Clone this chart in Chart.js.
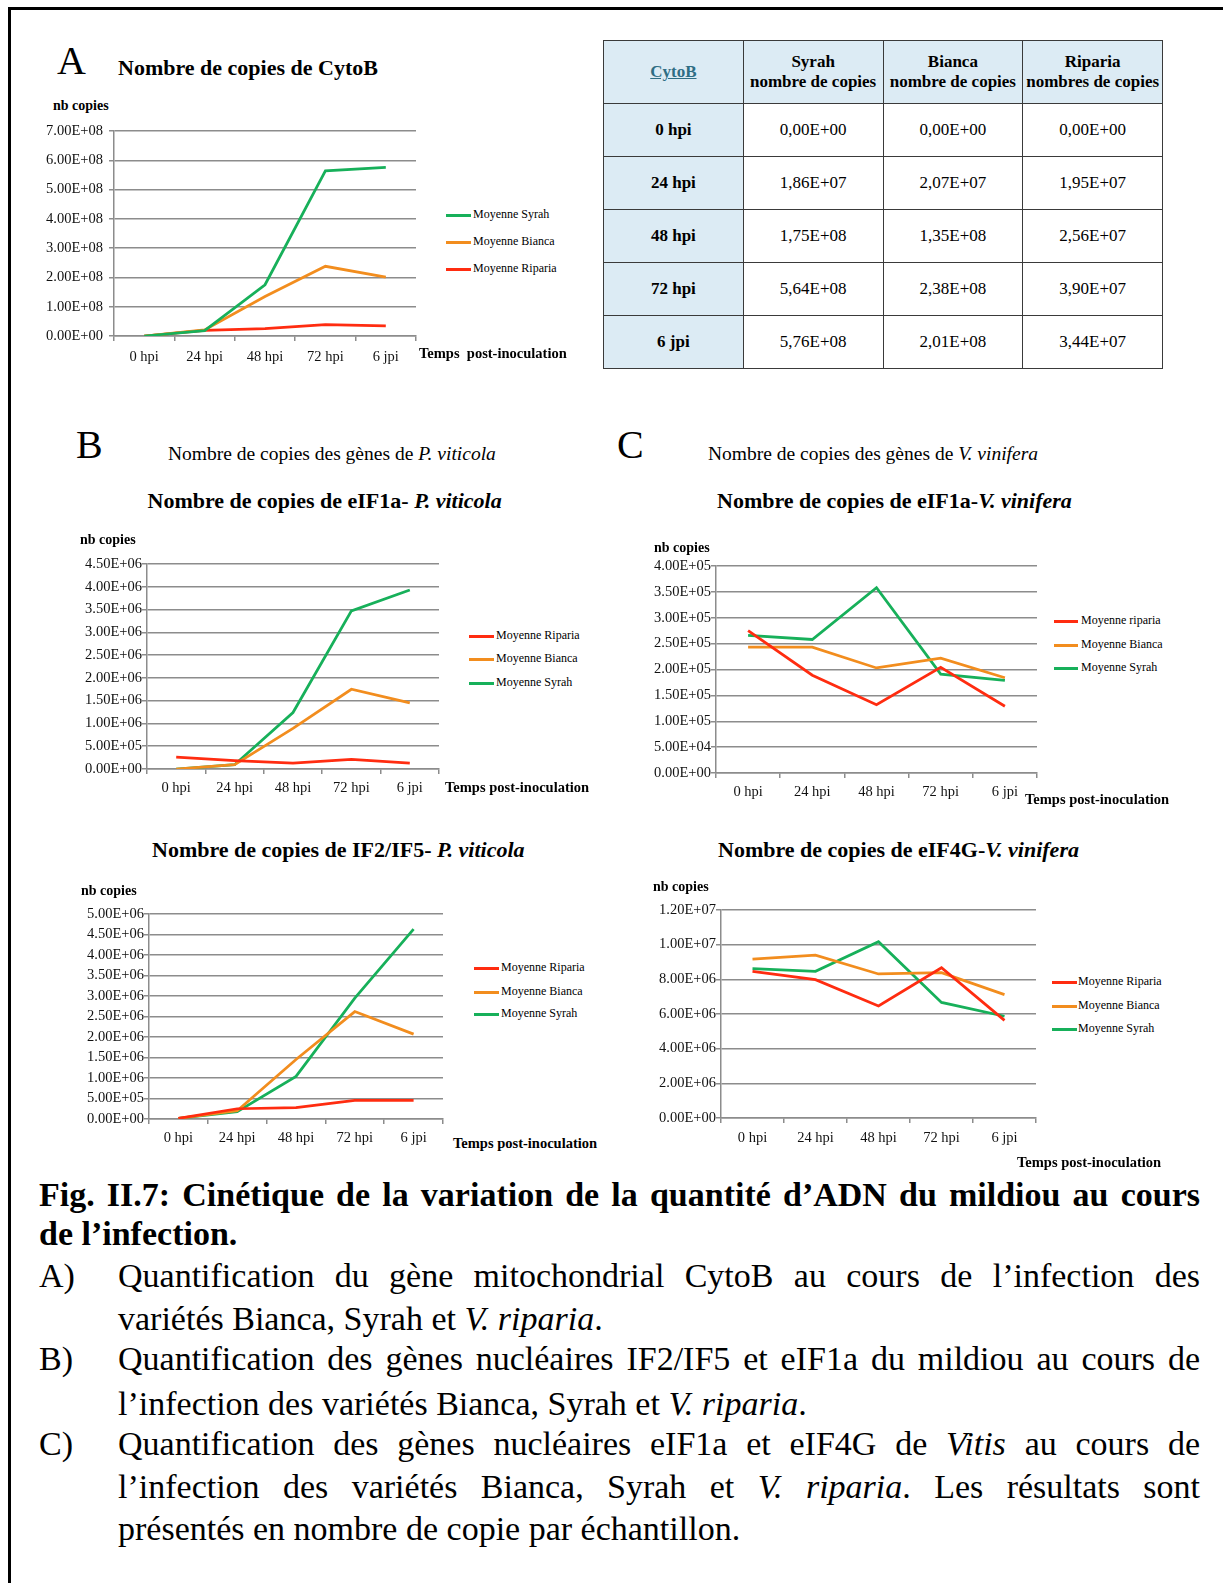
<!DOCTYPE html>
<html lang="fr">
<head>
<meta charset="utf-8">
<title>Fig. II.7 – Cinétique de la quantité d’ADN du mildiou</title>
<script src="https://cdn.jsdelivr.net/npm/chart.js@4.4.0/dist/chart.umd.min.js"></script>
<style>
  body { margin: 0; background: #fff; }
  #page {
    position: relative; width: 1223px; height: 1583px; overflow: hidden;
    font-family: "Liberation Serif", "Times New Roman", serif; color: #000;
  }
  .frame {
    position: absolute; left: 8px; top: 7px; right: -20px; bottom: -20px;
    border-left: 3px solid #000; border-top: 3px solid #000;
  }
  .t { position: absolute; white-space: nowrap; }
  canvas { position: absolute; }
  .letter { position: absolute; font-size: 40px; line-height: 40px; }
  #cytoTable {
    position: absolute; left: 603px; top: 40px; width: 560px;
    border-collapse: collapse; table-layout: fixed; font-size: 17px;
  }
  #cytoTable td {
    border: 1.5px solid #3a3a3a; text-align: center; vertical-align: middle;
    padding: 0; height: 52px; line-height: 20px;
  }
  #cytoTable tr.head td { height: 62px; background: #dcebf4; font-weight: bold; }
  #cytoTable td.row { background: #dcebf4; font-weight: bold; }
  #cytoTable .link { color: #2f6e84; text-decoration: underline; }
  .cap {
    position: absolute; font-size: 34px; line-height: 34px;
    text-align: justify; text-align-last: justify;
  }
  .cap.last { text-align-last: left; }
</style>
</head>
<body>
<div id="page">
  <div class="frame"></div>

  <div class="letter" style="left:57px;top:40.5px">A</div>
  <div class="letter" style="left:76px;top:424.5px">B</div>
  <div class="letter" style="left:617px;top:424.5px">C</div>

  <div class="t" style="left:168px;top:443.8px;font-size:19.5px;line-height:19.5px">Nombre de copies des gènes de <i>P. viticola</i></div>
  <div class="t" style="left:708px;top:443.8px;font-size:19.5px;line-height:19.5px">Nombre de copies des gènes de <i>V. vinifera</i></div>

  <table id="cytoTable"></table>

  <div class="cap" style="left:39px;top:1178.3px;width:1161px;font-weight:bold">Fig. II.7: Cinétique de la variation de la quantité d’ADN du mildiou au cours</div>
  <div class="cap last" style="left:39px;top:1217.3px;width:1161px;font-weight:bold">de l’infection.</div>

  <div class="cap last" style="left:39px;top:1258.8px">A)</div>
  <div class="cap" style="left:118px;top:1258.8px;width:1082px">Quantification du gène mitochondrial CytoB au cours de l’infection des</div>
  <div class="cap last" style="left:118px;top:1302.3px;width:1082px">variétés Bianca, Syrah et <i>V. riparia</i>.</div>

  <div class="cap last" style="left:39px;top:1342.3px">B)</div>
  <div class="cap" style="left:118px;top:1342.3px;width:1082px">Quantification des gènes nucléaires IF2/IF5 et eIF1a du mildiou au cours de</div>
  <div class="cap last" style="left:118px;top:1387.3px;width:1082px">l’infection des variétés Bianca, Syrah et <i>V. riparia</i>.</div>

  <div class="cap last" style="left:39px;top:1427.3px">C)</div>
  <div class="cap" style="left:118px;top:1427.3px;width:1082px">Quantification des gènes nucléaires eIF1a et eIF4G de <i>Vitis</i> au cours de</div>
  <div class="cap" style="left:118px;top:1469.8px;width:1082px">l’infection des variétés Bianca, Syrah et <i>V. riparia</i>. Les résultats sont</div>
  <div class="cap last" style="left:118px;top:1512.3px;width:1082px">présentés en nombre de copie par échantillon.</div>
</div>

<script>
// time points after inoculation
const times = ['0 hpi', '24 hpi', '48 hpi', '72 hpi', '6 jpi'];

// A – CytoB (mitochondrial), copies
const cytoSyrah   = [0, 1.86e7, 1.75e8, 5.64e8, 5.76e8];
const cytoBianca  = [0, 2.07e7, 1.35e8, 2.38e8, 2.01e8];
const cytoRiparia = [0, 1.95e7, 2.56e7, 3.90e7, 3.44e7];

// B – P. viticola eIF1a
const pvEif1aRiparia = [2.63e5, 1.83e5, 1.31e5, 2.12e5, 1.31e5];
const pvEif1aBianca  = [0, 0.95e5, 8.9e5, 1.75e6, 1.45e6];
const pvEif1aSyrah   = [0, 0.95e5, 1.24e6, 3.47e6, 3.93e6];

// B – P. viticola IF2/IF5
const pvIf2Riparia = [1.6e4, 2.5e5, 2.75e5, 4.55e5, 4.55e5];
const pvIf2Bianca  = [1.6e4, 2.0e5, 1.45e6, 2.62e6, 2.07e6];
const pvIf2Syrah   = [1.6e4, 1.8e5, 1.04e6, 2.95e6, 4.63e6];

// C – V. vinifera eIF1a
const vvEif1aRiparia = [2.75e5, 1.89e5, 1.32e5, 2.04e5, 1.29e5];
const vvEif1aBianca  = [2.43e5, 2.43e5, 2.03e5, 2.22e5, 1.84e5];
const vvEif1aSyrah   = [2.66e5, 2.58e5, 3.58e5, 1.91e5, 1.79e5];

// C – V. vinifera eIF4G
const vvEif4gRiparia = [8.46e6, 7.98e6, 6.46e6, 8.67e6, 5.63e6];
const vvEif4gBianca  = [9.17e6, 9.40e6, 8.31e6, 8.38e6, 7.12e6];
const vvEif4gSyrah   = [8.62e6, 8.46e6, 1.017e7, 6.67e6, 5.87e6];

// y axis ranges [max, step]
const cytoAxis    = [7e8, 1e8];
const pvEif1aAxis = [4.5e6, 5e5];
const pvIf2Axis   = [5e6, 5e5];
const vvEif1aAxis = [4e5, 5e4];
const vvEif4gAxis = [1.2e7, 2e6];

const GREEN = '#17b05a', ORANGE = '#f28d1e', RED = '#ff2c10';
const GRID = '#8c8c8c';
const SERIF = '"Liberation Serif", "Times New Roman", serif';
const page = document.getElementById('page');

// 1.86e7 -> "1.86E+07" (or with a decimal comma)
function sci(v, sep) {
  const [m, e] = Number(v).toExponential(2).split('e');
  return m.replace('.', sep) + 'E' + e[0] + e.slice(1).padStart(2, '0');
}

function addText(html, x, cy, size, css) {
  const d = document.createElement('div');
  d.className = 't';
  d.innerHTML = html;
  d.style.cssText = `left:${x}px;top:${cy - 0.55 * size}px;font-size:${size}px;line-height:${size}px;${css || ''}`;
  page.appendChild(d);
}

// CytoB table
const table = document.getElementById('cytoTable');
let rowsHtml = '<tr class="head"><td><span class="link">CytoB</span></td>' +
  '<td>Syrah<br>nombre de copies</td><td>Bianca<br>nombre de copies</td><td>Riparia<br>nombres de copies</td></tr>';
times.forEach((t, i) => {
  rowsHtml += `<tr><td class="row">${t}</td><td>${sci(cytoSyrah[i], ',')}</td>` +
    `<td>${sci(cytoBianca[i], ',')}</td><td>${sci(cytoRiparia[i], ',')}</td></tr>`;
});
table.innerHTML = rowsHtml;

const panels = [
  {
    box: [114, 131, 416, 336], axis: cytoAxis, yPad: 6, xPad: 7.3,
    series: [['Moyenne Syrah', cytoSyrah, GREEN], ['Moyenne Bianca', cytoBianca, ORANGE], ['Moyenne Riparia', cytoRiparia, RED]],
    title: ['Nombre de copies de CytoB', 118, 69], nb: [53, 107],
    temps: ['Temps&nbsp; post-inoculation', 419, 354], legend: [446, 471, 473, [215, 242, 269]]
  },
  {
    box: [147, 564, 439, 769], axis: pvEif1aAxis, yPad: 0, xPad: 5.3,
    series: [['Moyenne Riparia', pvEif1aRiparia, RED], ['Moyenne Bianca', pvEif1aBianca, ORANGE], ['Moyenne Syrah', pvEif1aSyrah, GREEN]],
    title: ['Nombre de copies de eIF1a- <i>P. viticola</i>', 147.5, 502], nb: [80, 541],
    temps: ['Temps post-inoculation', 445, 788], legend: [469, 494, 496, [636, 659, 683]]
  },
  {
    box: [716, 566, 1037, 773], axis: vvEif1aAxis, yPad: 0, xPad: 5.3,
    series: [['Moyenne riparia', vvEif1aRiparia, RED], ['Moyenne Bianca', vvEif1aBianca, ORANGE], ['Moyenne Syrah', vvEif1aSyrah, GREEN]],
    title: ['Nombre de copies de eIF1a-<i>V. vinifera</i>', 717, 502], nb: [654, 549],
    temps: ['Temps post-inoculation', 1025, 800], legend: [1054, 1078, 1081, [621, 645, 668]]
  },
  {
    box: [149, 914, 443, 1119], axis: pvIf2Axis, yPad: 0, xPad: 5.3,
    series: [['Moyenne Riparia', pvIf2Riparia, RED], ['Moyenne Bianca', pvIf2Bianca, ORANGE], ['Moyenne Syrah', pvIf2Syrah, GREEN]],
    title: ['Nombre de copies de IF2/IF5- <i>P. viticola</i>', 152, 851], nb: [81, 892],
    temps: ['Temps post-inoculation', 453, 1144], legend: [474, 499, 501, [968, 992, 1014]]
  },
  {
    box: [721, 910, 1036, 1118], axis: vvEif4gAxis, yPad: 0, xPad: 6,
    series: [['Moyenne Riparia', vvEif4gRiparia, RED], ['Moyenne Bianca', vvEif4gBianca, ORANGE], ['Moyenne Syrah', vvEif4gSyrah, GREEN]],
    title: ['Nombre de copies de eIF4G-<i>V. vinifera</i>', 718, 851], nb: [653, 888],
    temps: ['Temps post-inoculation', 1017, 1163], legend: [1052, 1077, 1078, [982, 1006, 1029]]
  }
];

function buildPanel(p) {
  // top padding must exceed half a tick label plus the y tick padding,
  // otherwise Chart.js pushes the plot area down
  const padL = 80, padT = 18, padR = 10, padB = 40;
  const [L, T, R, B] = p.box;
  const w = R - L + padL + padR, h = B - T + padT + padB;
  const cv = document.createElement('canvas');
  cv.width = w; cv.height = h;
  cv.style.cssText = `left:${L - padL}px;top:${T - padT}px;width:${w}px;height:${h}px`;
  page.appendChild(cv);

  const tickFont = { family: SERIF, size: 14.5 };
  new Chart(cv, {
    type: 'line',
    data: {
      labels: times,
      datasets: p.series.map(([label, data, color]) => ({
        label, data, borderColor: color, backgroundColor: color,
        borderWidth: 2.75, pointRadius: 0, tension: 0, fill: false
      }))
    },
    options: {
      responsive: false, animation: false, devicePixelRatio: 1,
      layout: { padding: { left: 0, top: padT, right: padR, bottom: 0 } },
      plugins: { legend: { display: false }, tooltip: { enabled: false } },
      scales: {
        x: {
          offset: true,
          grid: { offset: true, drawOnChartArea: false, color: GRID, lineWidth: 1.5, tickLength: 5 },
          border: { color: GRID, width: 1.5 },
          ticks: { color: '#111', font: tickFont, padding: p.xPad, maxRotation: 0, autoSkip: false },
          afterFit: s => { s.height = padB; }
        },
        y: {
          min: 0, max: p.axis[0],
          grid: { color: GRID, lineWidth: 1.5, tickLength: 5 },
          border: { color: GRID, width: 1.5 },
          ticks: {
            stepSize: p.axis[1], autoSkip: false, color: '#111', font: tickFont, padding: p.yPad,
            callback: v => sci(v, '.')
          },
          afterFit: s => { s.width = padL; }
        }
      }
    }
  });

  addText(p.title[0], p.title[1], p.title[2], 22, 'font-weight:bold');
  addText('nb copies', p.nb[0], p.nb[1], 14, 'font-weight:bold');
  addText(p.temps[0], p.temps[1], p.temps[2], 14.5, 'font-weight:bold');

  const [x1, x2, tx, rows] = p.legend;
  p.series.forEach(([label, , color], i) => {
    const sw = document.createElement('div');
    sw.style.cssText = `position:absolute;left:${x1}px;top:${rows[i] - 1.5}px;width:${x2 - x1}px;height:3px;background:${color}`;
    page.appendChild(sw);
    addText(label, tx, rows[i], 12);
  });
}

panels.forEach(buildPanel);
</script>
</body>
</html>
